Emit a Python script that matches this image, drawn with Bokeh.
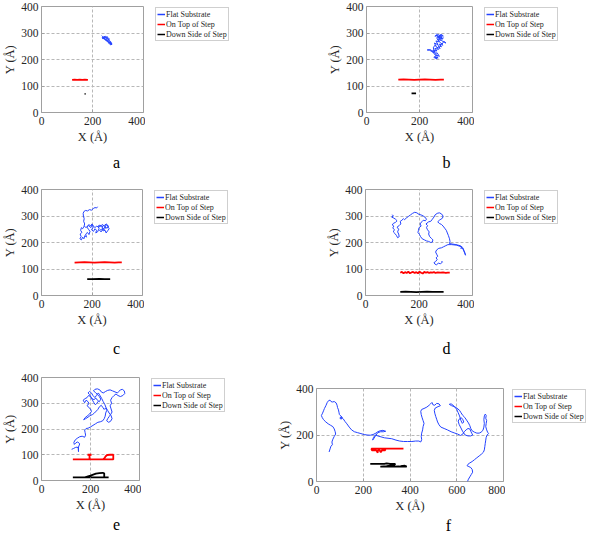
from bokeh.plotting import figure
from bokeh.layouts import column, row
from bokeh.models import Range1d, FixedTicker, Legend, LegendItem, Label, BoxAnnotation
from bokeh.embed import file_html
from bokeh.resources import INLINE

# ---------------- data (Å) ----------------
series_names = ["Flat Substrate", "On Top of Step", "Down Side of Step"]
x_ticks_small = [0, 200, 400]
x_ticks_wide = [0, 200, 400, 600, 800]
y_ticks_small = [0, 100, 200, 300, 400]
y_ticks_wide = [0, 200, 400]

# panel a
a_flat_x = [236,240,238,244,242,248,246,252,249,255,251,258,254,260,257,263,259,266,262,268,
            264,270,267,273,269,275,271,277,272,268,274,270,265,261,267,258,262,255,259,250,
            254,246,250,243,247,240,244,238]
a_flat_y = [290,286,282,284,279,281,276,278,274,280,272,276,270,273,268,271,266,268,263,266,
            261,264,259,262,257,260,255,258,262,266,264,269,272,275,277,279,281,283,285,283,
            286,284,287,285,282,283,280,279]
a_top_x = [120,130,140,150,160,170,182]
a_top_y = [123,124,123,124,123,124,123]
a_down_x = [169,173]
a_down_y = [70,70]

# panel b
b_flat_x = [262,268,258,272,265,278,270,284,276,290,282,300,292,285,279,288,275,283,270,278,
            265,272,258,266,252,260,248,256,244,236,229,238,247,255,262,254,266,258,270,262,
            275,266,260,252,258,264,256,270,262,276,268,280,272,285,276,290,282,274,266,272]
b_flat_y = [298,292,288,294,284,290,280,287,276,282,272,262,268,258,264,254,258,248,252,242,
            246,238,242,232,236,228,233,224,236,237,236,235,230,222,214,208,202,210,205,218,
            212,226,220,244,254,248,262,256,270,266,276,272,284,280,292,288,296,288,280,270]
b_top_x = [120,140,160,180,200,220,240,260,280,292]
b_top_y = [124,125,124,123,124,125,124,123,124,124]
b_down_x = [170,187]
b_down_y = [72,72]

# panel c
c_flat = [(222,335),(218,330),(212,332),(205,328),(198,322),(190,324),(182,319),(175,321),(168,317),
          (165,310),(166,300),(169,290),(167,280),(171,270),(168,260),(163,252),(158,256),(155,246),
          (160,238),(153,232),(157,222),(152,214),(158,210),(163,220),(168,214),(172,226),(178,220),
          (175,232),(182,238),(188,230),(192,242),(186,250),(180,258),(187,264),(195,256),(200,266),
          (205,258),(198,248),(206,242),(212,252),(218,246),(215,236),(222,240),(228,252),(224,262),
          (232,266),(238,258),(244,264),(240,254),(248,248),(254,256),(250,266),(258,270),(262,260),
          (268,252),(262,244),(256,236),(252,246),(244,244),(238,250),(230,246),(236,240),(244,252),
          (252,258),(260,254),(266,262),(258,266),(250,260),(242,268),(234,262),(226,258),(218,262),
          (212,256),(206,262),(200,270),(194,262),(188,268),(182,262),(176,256),(170,262)]
c_top = [(131,124),(150,125),(170,126),(190,125),(210,124),(230,125),(250,126),(270,125),
         (290,124),(305,125),(318,125)]
c_down = [(181,62),(200,62),(230,63),(250,62),(272,62)]

# panel d
d_flat = [(100,305),(104,300),(98,296),(106,292),(112,288),(118,282),(112,276),(104,272),(100,266),
          (106,262),(102,255),(108,248),(104,240),(110,234),(116,226),(120,218),(126,222),(124,232),
          (120,240),(124,250),(118,258),(126,264),(132,270),(130,280),(136,284),(142,290),(146,286),
          (152,292),(160,298),(168,304),(176,310),(184,314),(192,312),(200,306),(208,304),(216,300),
          (222,296),(228,288),(224,282),(216,284),(210,278),(204,270),(208,262),(200,256),(198,246),
          (196,238),(202,230),(206,222),(212,214),(220,210),(228,206),(236,204),(244,200),(250,202),
          (252,210),(246,216),(240,222),(236,232),(238,240),(232,248),(228,256),(232,264),(226,270),
          (236,278),(244,280),(250,288),(256,296),(260,304),(268,310),(276,312),(284,308),(290,300),
          (288,292),(282,288),(276,284),(270,278),(276,272),(284,268),(290,262),(296,254),(302,246),
          (306,236),(310,226),(314,214),(316,204),(314,196),(326,194),(338,192),(346,190),(354,188),
          (360,184),(356,178),(364,180),(368,170),(372,160),(374,152),(366,172),(358,184),(340,190),
          (322,192),(308,192),(300,188),(292,184),(284,180),(274,178),(266,172),(262,164),(266,156),
          (270,148),(264,142),(268,136),(262,128),(256,124),(260,118),(266,116),(272,122),(280,120),
          (288,126),(284,130)]
d_top = [(130,86),(136,89),(142,84),(148,88),(154,85),(160,90),(166,84),(172,87),(178,89),(184,85),
         (190,88),(196,84),(202,90),(208,86),(214,83),(220,89),(226,86),(232,88),(238,85),(244,87),
         (250,86),(256,88),(262,85),(270,87),(280,86),(290,87),(300,85),(308,86),(315,86)]
d_down = [(130,14),(150,15),(170,14),(190,13),(210,14),(230,15),(250,14),(270,14),(292,14)]

# panel e
e_flat = [(123,121),(130,124),(138,128),(146,130),(150,124),(151,112),(151,130),(156,142),(148,150),
          (140,146),(134,140),(132,148),(138,158),(146,164),(156,170),(166,172),(176,168),(180,176),
          (178,186),(176,196),(182,202),(190,203),(200,208),(210,214),(220,220),(230,226),(240,228),
          (250,232),(256,240),(260,250),(262,262),(266,272),(262,282),(256,276),(250,284),(244,292),
          (236,286),(230,276),(224,270),(216,262),(208,256),(198,252),(190,246),(180,240),(172,236),
          (178,244),(186,250),(196,258),(204,268),(200,278),(192,284),(186,292),(194,298),(190,306),
          (182,312),(176,302),(170,312),(178,318),(186,322),(192,330),(200,326),(206,318),(214,314),
          (222,320),(228,312),(236,306),(242,316),(236,326),(228,334),(220,342),(212,348),(218,354),
          (228,356),(238,352),(244,344),(252,340),(262,346),(270,350),(280,352),(290,348),(300,344),
          (310,340),(316,346),(322,352),(330,354),(338,348),(340,338),(332,330),(322,326),(312,330),
          (304,336),(296,330),(288,322),(282,312),(286,300),(280,290),(284,278),(288,266),(282,256),
          (276,248),(270,240),(266,232),(274,226),(282,230),(288,240),(284,252),(276,262),(270,272),
          (264,282),(258,296),(252,306),(246,318),(240,328),(232,340),(224,330),(218,322),(210,330),
          (204,340),(196,346),(190,340),(196,334),(202,324),(208,312),(214,302),(220,294),(226,300),
          (232,308)]
e_top = [(128,82),(150,82),(175,82),(196,82),(196,92),(196,99),(188,100),(204,100),(196,99),
         (196,90),(196,82),(220,82),(240,82),(252,83),(258,88),(262,94),(268,99),(280,100),
         (293,100),(293,92),(293,82),(280,82),(270,82),(262,82),(250,82)]
e_down = [(128,12),(160,12),(177,12),(200,19),(222,27),(236,29),(250,30),(256,28),(256,12),
          (274,12),(256,12),(230,12),(200,12),(180,12)]

# panel f
f_flat = [(54,127),(58,140),(62,152),(68,158),(66,170),(70,182),(76,194),(82,204),(80,214),(76,226),
          (70,236),(60,242),(50,248),(40,256),(30,266),(24,276),(21,284),(26,294),(30,304),(34,314),
          (40,326),(46,340),(52,348),(58,350),(62,344),(68,342),(76,344),(84,338),(88,328),(90,318),
          (94,308),(96,298),(98,288),(104,282),(110,276),(106,268),(100,272),(104,278),(114,270),
          (122,258),(130,248),(140,234),(150,222),(162,214),(176,210),(190,206),(204,202),(216,200),
          (230,199),(242,202),(254,208),(262,214),(272,218),(284,220),(296,216),(286,214),(274,214),
          (262,210),(252,196),(246,186),(240,178),(244,190),(252,200),(262,196),(276,192),(290,188),
          (306,186),(322,184),(340,178),(356,174),(372,172),(390,172),(408,172),(424,174),(438,174),
          (446,170),(450,180),(448,194),(450,208),(454,222),(456,236),(460,250),(456,262),(452,274),
          (448,288),(446,302),(450,310),(460,314),(472,320),(482,328),(488,334),(494,340),(498,330),
          (506,328),(514,336),(524,334),(530,326),(520,322),(508,316),(504,306),(506,294),(510,280),
          (514,268),(518,256),(524,244),(532,234),(546,228),(560,222),(576,214),(592,208),(604,204),
          (616,198),(626,204),(632,214),(640,222),(648,228),(656,226),(660,216),(664,208),(668,200),
          (660,196),(648,196),(636,200),(626,214),(618,230),(610,246),(606,260),(612,270),(620,274),
          (626,266),(630,256),(624,250),(618,262),(612,282),(606,296),(600,310),(592,320),(584,328),
          (576,334),(568,332),(578,326),(590,322),(600,316),(612,306),(618,296),(626,284),(634,276),
          (642,264),(650,252),(656,240),(660,228),(666,218),(676,212),(686,208),(696,208),(704,212),
          (712,220),(716,234),(718,250),(716,266),(718,282),(722,290),(726,284),(724,272),(728,262),
          (726,250),(724,236),(728,222),(732,212),(736,206),(730,200),(726,190),(724,178),(722,164),
          (720,150),(718,136),(714,126),(706,118),(696,110),(686,102),(676,94),(666,86),(656,80),
          (648,74),(644,68),(652,64),(660,60),(666,52),(668,40),(662,30),(656,20),(650,10),(646,0)]
f_top = [(372,141),(340,141),(310,141),(294,141),(294,134),(280,134),(275,126),(270,134),(262,134),
         (262,124),(256,134),(245,134),(237,134),(235,141),(250,141),(270,141),(294,141)]
f_down = [(230,76),(260,76),(290,76),(300,78),(315,76),(337,76),(332,70),(300,66),(273,64),
          (300,64),(330,64),(350,65),(365,64),(386,64),(378,68),(360,66)]


def split(pairs):
    return [p[0] for p in pairs], [p[1] for p in pairs]


BLUE = "#2443ff"
RED = "#ff0000"
BLACK = "#000000"
GREY = "#a0a0a0"
SERIF = "Liberation Serif"
AXIS_H = 34
LEG_W = 72
LEG_H = 32


def blank(width, height, left=0, top=0, xr=(0, 1), yr=(0, 1)):
    f = figure(width=width, height=height, x_range=Range1d(*xr), y_range=Range1d(*yr),
               x_axis_type=None, y_axis_type=None, output_backend="svg", toolbar_location=None,
               min_border_left=left, min_border_right=0, min_border_top=top, min_border_bottom=0)
    f.outline_line_color = None
    f.background_fill_color = "white"
    f.border_fill_color = "white"
    return f


def panel(cap, col_w, row_h, fl, ft, fw, fh, xmax, xticks, yticks,
          flat, topstep, down, cap_x, cap_y, gap=12):
    plot_w = fl + fw + 2
    plot_h = ft + fh + AXIS_H
    p = figure(width=plot_w, height=plot_h, x_range=Range1d(0, xmax), y_range=Range1d(0, 400),
               output_backend="svg", toolbar_location=None,
               min_border_left=fl, min_border_right=2, min_border_top=ft, min_border_bottom=AXIS_H)
    p.background_fill_color = "white"
    p.border_fill_color = "white"
    p.outline_line_color = GREY
    p.outline_line_width = 1

    p.xaxis.ticker = FixedTicker(ticks=xticks)
    p.yaxis.ticker = FixedTicker(ticks=yticks)
    p.xgrid.ticker = FixedTicker(ticks=xticks)
    p.ygrid.ticker = FixedTicker(ticks=yticks)
    p.grid.grid_line_color = "#b8b8b8"
    p.grid.grid_line_dash = "3 2"
    p.grid.grid_line_width = 1

    p.axis.axis_line_color = None
    p.axis.major_tick_in = 3
    p.axis.major_tick_out = 0
    p.axis.major_tick_line_color = GREY
    p.axis.minor_tick_line_color = None
    p.axis.major_label_text_font = SERIF
    p.axis.major_label_text_font_size = "11.5px"
    p.axis.major_label_text_color = "#262626"
    p.xaxis.axis_label = "X (Å)"
    p.yaxis.axis_label = "Y (Å)"
    p.axis.axis_label_text_font = SERIF
    p.axis.axis_label_text_font_size = "12.5px"
    p.axis.axis_label_text_font_style = "normal"
    p.axis.axis_label_text_color = "#262626"
    p.xaxis.major_label_standoff = 4
    p.yaxis.major_label_standoff = 3
    p.xaxis.axis_label_standoff = 2
    p.yaxis.axis_label_standoff = 1

    fx, fy = flat
    tx, ty = topstep
    dx, dy = down
    p.line(fx, fy, line_color=BLUE, line_width=1)
    p.line(tx, ty, line_color=RED, line_width=1.8)
    p.line(dx, dy, line_color=BLACK, line_width=1.8)

    # legend box to the right of the axes box; a helper plot whose ranges are negative
    # pixel counts, so its swatch renderers (the same positive series) stay out of view
    lw = col_w - plot_w - (gap - 3)
    lh = plot_h - (ft - 1)
    lf = blank(col_w - plot_w, plot_h, left=gap - 3, top=ft - 1, xr=(-lw, 0), yr=(-lh, 0))
    s1 = lf.line(fx, fy, line_color=BLUE, line_width=1.5)
    s2 = lf.line(tx, ty, line_color=RED, line_width=1.5)
    s3 = lf.line(dx, dy, line_color=BLACK, line_width=1.5)
    lg = Legend(items=[LegendItem(label=series_names[0], renderers=[s1]),
                       LegendItem(label=series_names[1], renderers=[s2]),
                       LegendItem(label=series_names[2], renderers=[s3])],
                location="top_left", margin=1, padding=1, spacing=0,
                label_height=10, glyph_height=10, glyph_width=8, label_standoff=1,
                label_text_font=SERIF, label_text_font_size="8px",
                label_text_color="#262626", border_line_color=GREY, border_line_width=1,
                background_fill_color="white", background_fill_alpha=1.0)
    lf.add_layout(lg)
    # frame line around the legend box
    lf.add_layout(BoxAnnotation(left=-lw + 1.5, right=-lw + 1.5 + LEG_W, top=-1.5,
                                bottom=-1.5 - LEG_H, fill_alpha=0, line_color=GREY,
                                line_width=1, line_alpha=1.0))

    # caption strip
    cf = blank(col_w, row_h - plot_h)
    cf.add_layout(Label(x=cap_x, y=cap_y, x_units="screen", y_units="screen",
                        text=cap, text_align="center", text_baseline="alphabetic",
                        text_font=SERIF, text_font_size="16px", text_color="black"))
    return column(row(p, lf), cf)


ca = panel("a", 292, 171, 36, 6, 107, 106, 400, x_ticks_small, y_ticks_small,
           (a_flat_x, a_flat_y), (a_top_x, a_top_y), (a_down_x, a_down_y), 116, 9)
cb = panel("b", 294, 171, 74, 6, 106, 106, 400, x_ticks_small, y_ticks_small,
           (b_flat_x, b_flat_y), (b_top_x, b_top_y), (b_down_x, b_down_y), 154, 9)
cc = panel("c", 292, 186, 36, 18, 106, 106, 400, x_ticks_small, y_ticks_small,
           split(c_flat), split(c_top), split(c_down), 116, 9)
cd = panel("d", 294, 186, 73, 18, 107, 106, 400, x_ticks_small, y_ticks_small,
           split(d_flat), split(d_top), split(d_down), 154, 9)
ce = panel("e", 248, 177, 36, 20, 103, 103, 400, x_ticks_small, y_ticks_small,
           split(e_flat), split(e_top), split(e_down), 116, 10)
cf_ = panel("f", 338, 177, 68, 31, 187, 93, 800, x_ticks_wide, y_ticks_wide,
            split(f_flat), split(f_top), split(f_down), 200, 9, gap=9)

layout = column(row(ca, cb), row(cc, cd), row(ce, cf_))
open("out.html", "w").write(file_html(layout, INLINE))
